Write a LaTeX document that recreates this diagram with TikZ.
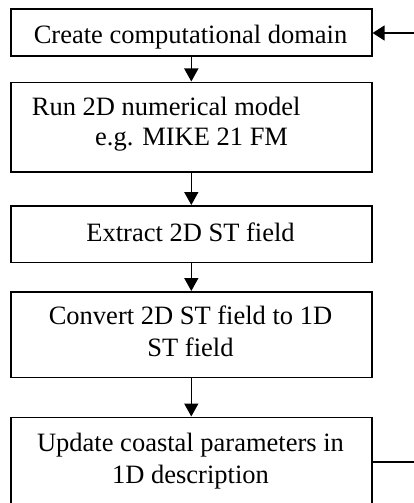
\documentclass[tikz,border=0pt]{standalone}
\usepackage{fontspec}
\setmainfont{Liberation Serif}
\usetikzlibrary{arrows.meta}
\begin{document}
\begin{tikzpicture}[x=1pt,y=-1pt,
  box/.style={draw,line width=1.6pt,rectangle,anchor=north west,minimum width=361pt,inner sep=0pt},
  txt/.style={font=\fontsize{26.5}{32}\selectfont,inner sep=0pt},
  flow/.style={line width=1.6pt,-{Triangle[length=13pt,width=14pt]}},
  line/.style={line width=1.6pt}]
\useasboundingbox (0,0) rectangle (414,503);
\clip (0,0) rectangle (414,503);
% boxes
\node[box,minimum height=46.5pt] (b1) at (10,8.5) {};
\node[box,minimum height=89.5pt] (b2) at (10,81.5) {};
\node[box,minimum height=56.5pt] (b3) at (10,205) {};
\node[box,minimum height=85.5pt] (b4) at (10,291) {};
\node[box,minimum height=110pt] (b5) at (10,416.5) {};
% texts
\node[txt,anchor=base] (t1) at (190.5,43.3) {Create computational domain};
\node[txt,anchor=base west] (t2a) at (31.7,115) {Run 2D numerical model};
\node[txt,anchor=base west] (t2b) at (95,145) {e.g. MIKE 21 FM};
\node[txt,anchor=base] (t3) at (190.5,241.7) {Extract 2D ST field};
\node[txt,anchor=base] (t4a) at (190.5,324.3) {Convert 2D ST field to 1D};
\node[txt,anchor=base] (t4b) at (190.5,356.7) {ST field};
\node[txt,anchor=base] (t5a) at (190.5,451) {Update coastal parameters in};
\node[txt,anchor=base] (t5b) at (190.5,483.3) {1D description};
% connectors
\draw[flow] (b1.south) -- (b2.north);
\draw[flow] (b2.south) -- (b3.north);
\draw[flow] (b3.south) -- (b4.north);
\draw[flow] (b4.south) -- (b5.north);
% feedback loop (continues beyond the picture)
\coordinate (fbin) at (420,33);
\coordinate (fbout) at (420,462);
\draw[flow,-{Triangle[length=12pt,width=15pt]}] (fbin) -- (fbin -| b1.east);
\draw[line] (fbout -| b5.east) -- (fbout);
\end{tikzpicture}
\end{document}
